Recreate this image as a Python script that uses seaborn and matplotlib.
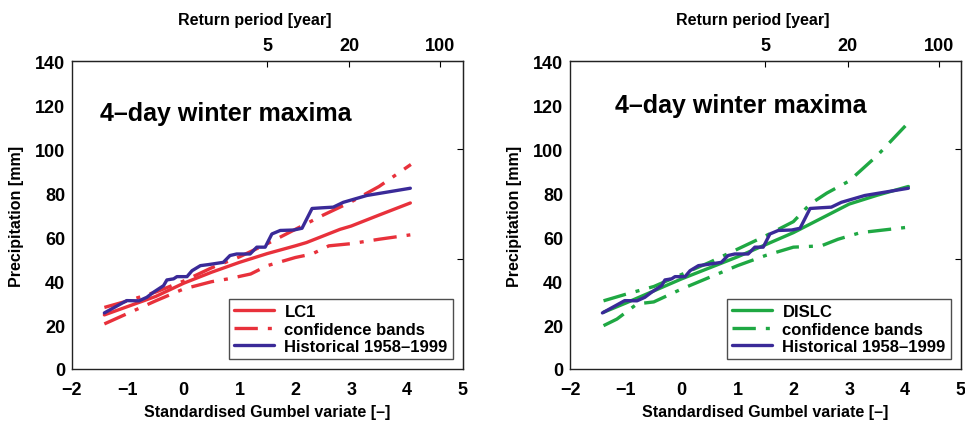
import numpy as np
import pandas as pd
import matplotlib.pyplot as plt
import seaborn as sns

sns.set_style("white")
plt.rcParams['font.family'] = ['Liberation Sans', 'DejaVu Sans']
plt.rcParams['font.weight'] = 'bold'
plt.rcParams['text.color'] = 'black'
plt.rcParams['axes.labelcolor'] = 'black'
plt.rcParams['xtick.color'] = 'black'
plt.rcParams['ytick.color'] = 'black'

# Historical 1958-1999 (same in both panels)
hist_x = [-1.42, -1.02, -0.8, -0.66, -0.54, -0.36, -0.30, -0.18, -0.12, 0.06, 0.15, 0.30,
          0.45, 0.71, 0.83, 0.95, 1.19, 1.31, 1.46, 1.58, 1.73, 1.97, 2.12, 2.30, 2.48,
          2.68, 2.86, 3.28, 4.06]
hist_y = [25.5, 31.1, 31.0, 32.6, 34.9, 37.9, 40.5, 41.0, 42.0, 42.0, 44.7, 47.0,
          47.5, 48.5, 51.6, 52.3, 52.3, 55.4, 55.4, 61.4, 63.0, 63.2, 64.0, 73.0, 73.3,
          73.6, 75.8, 78.9, 82.2]

# LC1 model (left panel)
lc1_x = [-1.42, -0.5, 0.0, 0.5, 1.0, 1.5, 2.0, 2.2, 2.5, 2.8, 3.0, 3.5, 4.06]
lc1_y = [24.6, 33.0, 39.0, 44.0, 48.5, 52.5, 56.0, 57.5, 60.5, 63.5, 65.0, 70.0, 75.5]
lc1_up_x = [-1.42, -1.0, -0.5, 0.0, 0.5, 1.0, 1.5, 2.0, 2.5, 3.0, 3.5, 4.07]
lc1_up_y = [28.0, 31.0, 35.0, 40.0, 46.0, 51.0, 57.0, 63.5, 70.0, 76.0, 83.0, 93.0]
lc1_lo_x = [-1.42, -0.5, 0.0, 0.5, 0.8, 1.2, 1.5, 2.0, 2.3, 2.6, 3.0, 3.5, 4.06]
lc1_lo_y = [20.5, 31.0, 36.4, 39.7, 41.0, 43.2, 47.0, 50.7, 52.3, 56.0, 57.0, 59.0, 61.0]

# DISLC model (right panel)
dis_x = [-1.4, -1.0, -0.5, 0.0, 0.5, 1.0, 1.5, 2.0, 2.5, 3.0, 3.5, 4.06]
dis_y = [25.8, 30.0, 35.5, 41.0, 46.0, 51.0, 56.5, 62.0, 68.5, 75.0, 79.0, 83.0]
dis_up_x = [-1.4, -1.0, -0.5, 0.0, 0.5, 1.0, 1.5, 2.0, 2.3, 2.6, 3.0, 3.5, 4.06]
dis_up_y = [31.0, 34.0, 37.5, 43.0, 48.5, 54.5, 60.5, 67.0, 75.0, 80.0, 85.5, 97.0, 112.0]
dis_lo_x = [-1.4, -1.16, -0.8, -0.5, 0.0, 0.5, 1.0, 1.5, 2.0, 2.5, 2.8, 3.2, 4.06]
dis_lo_y = [19.7, 22.7, 29.6, 30.5, 36.4, 41.7, 47.0, 51.6, 55.4, 56.0, 59.0, 62.0, 64.5]

return_periods = [5, 20, 100]

red = '#e8313b'
green = '#1fa843'
blue = '#3a2a98'
dashdot = (0, (7, 3, 1.2, 3))

fig = plt.figure(figsize=(9.65, 4.27), dpi=100)
ax1 = fig.add_axes([0.0746, 0.1335, 0.405, 0.721])
ax2 = fig.add_axes([0.5907, 0.1335, 0.405, 0.721])


def panel(ax, name, color, mx, my, ux, uy, lx, ly, tx, ty):
    sns.lineplot(x=mx, y=my, ax=ax, color=color, lw=2.4, label=name, sort=False)
    sns.lineplot(x=ux, y=uy, ax=ax, color=color, lw=2.4, linestyle=dashdot,
                 label='confidence bands', sort=False)
    sns.lineplot(x=lx, y=ly, ax=ax, color=color, lw=2.4, linestyle=dashdot, sort=False)
    sns.lineplot(x=hist_x, y=hist_y, ax=ax, color=blue, lw=2.4,
                 label='Historical 1958\u20131999', sort=False)

    ax.set_xlim(-2, 5)
    ax.set_ylim(0, 140)
    ax.set_xticks(range(-2, 6))
    ax.set_xticklabels([f'{v}'.replace('-', '\u2212') for v in range(-2, 6)])
    ax.set_yticks(range(0, 141, 20))
    ax.tick_params(direction='in', length=4, labelsize=13, width=1)
    ax.tick_params(axis='x', pad=9)
    ax.tick_params(axis='y', pad=5)
    for s in ax.spines.values():
        s.set_linewidth(1.0)
        s.set_color('#222222')
    ax.set_xlabel('Standardised Gumbel variate [\u2013]', fontsize=11.5,
                  fontweight='bold', labelpad=4)
    ax.set_ylabel('Precipitation [mm]', fontsize=11.5, fontweight='bold', labelpad=8)

    # right-side ticks
    ry = ax.secondary_yaxis('right')
    ry.set_yticks([50, 100])
    ry.tick_params(direction='in', length=4, labelright=False)

    # return period axis on top
    top = ax.secondary_xaxis('top')
    top.set_xticks([-np.log(-np.log(1 - 1 / t)) for t in return_periods])
    top.set_xticklabels([str(t) for t in return_periods])
    top.tick_params(direction='in', length=4, labelsize=13, pad=5)
    ax.text(0.468, 1.136, 'Return period [year]', transform=ax.transAxes,
            ha='center', va='center', fontsize=11.5, fontweight='bold')

    ax.text(tx, ty, '4\u2013day winter maxima', transform=ax.transAxes,
            fontsize=18, fontweight='bold', va='baseline')

    leg = ax.legend(loc='lower right', bbox_to_anchor=(0.974, 0.032), borderaxespad=0,
                    fancybox=False, edgecolor='#222222',
                    handlelength=2.4, borderpad=0.3, labelspacing=0.15,
                    handletextpad=0.6, prop={'weight': 'bold', 'size': 12})
    leg.get_frame().set_linewidth(1.0)


panel(ax1, 'LC1', red, lc1_x, lc1_y, lc1_up_x, lc1_up_y, lc1_lo_x, lc1_lo_y, 0.072, 0.81)
panel(ax2, 'DISLC', green, dis_x, dis_y, dis_up_x, dis_up_y, dis_lo_x, dis_lo_y, 0.115, 0.834)

fig.savefig('out.png', dpi=100)
